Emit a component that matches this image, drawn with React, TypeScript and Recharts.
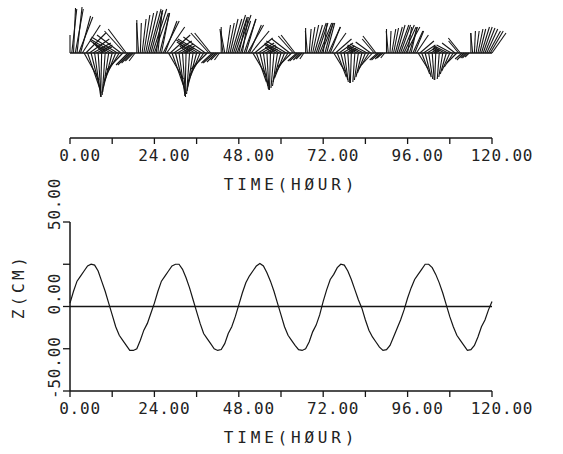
import React from "react";
import { LineChart, Line, XAxis, YAxis, ReferenceLine, Label } from "recharts";

// tide elevation, cm, one reading per hour from 0 to 120 h
const tideCm = [
  2, 9, 15, 18, 21, 24, 25, 24.5, 21, 15, 9, 2, -5, -12, -17, -20, -23, -26, -26, -25, -20, -14, -10, -4,
  2, 9, 15, 18, 21, 24, 25, 25, 22, 17, 11, 4, -3, -10, -16, -19, -22, -25, -26, -25.5, -22, -16, -12, -6,
  1, 8, 14, 18, 21, 24, 25.5, 24, 20, 15, 9, 2, -5, -12, -17, -20, -23, -25.5, -26, -25, -21, -15, -11, -5,
  3, 10, 16, 19, 23, 25, 24.5, 21, 16, 10, 4, -1, -8, -14, -18, -21, -24, -26, -25.5, -23, -18, -13, -8, -2,
  5, 11, 16, 19, 22, 25, 25, 23, 19, 14, 8, 1, -6, -12, -17, -20, -23, -26, -25.5, -23, -18, -12, -8, -2, 3,
];

// current vectors on the hour (east, north), 0..120 h
const eastOnHour = [
  0, 2, 5, 10, 15, 12, 10, 6, 3, -1, -3, -6, -9, -12, -14, -16, -18, -12, -8, 0, 1, 6, 10, 12,
  14, 4, 8, 12, 15, 12, 10, 6, 3, -1, -3, -6, -9, -12, -14, -16, -16, -11, -7, 0, -4, 6, 10, 12,
  8, 6, 10, 12, 13, 10, 8, 5, 2, -1, -3, -5, -8, -10, -12, -14, -14, -9, -6, 0, 2, 6, 10, 12,
  4, 8, 10, 11, 9, 7, 4, 2, -1, -2, -4, -6, -8, -10, -11, -13, -8, -6, 0, 1, 5, 8, 10, 12,
  4, 6, 9, 10, 8, 6, 4, 2, -1, -2, -4, -6, -8, -9, -10, -12, -7, -5, 0, 1, 5, 8, 10, 12, 14,
];
const northOnHour = [
  18, 45, 46, 37, -27, -35, -40, -43, -44, -44, -42, -39, -35, -30, -23, -17, 24, -12, -8, 33, 30, 38, 42, 43,
  40, 42, 40, 32, -26, -34, -40, -43, -44, -43, -41, -38, -34, -29, -22, -16, 20, -10, -7, 26, 22, 30, 34, 36,
  34, 36, 34, 28, -22, -29, -33, -36, -37, -37, -35, -33, -29, -25, -19, -14, 18, -8, -6, 25, 24, 28, 30, 30,
  30, 30, 26, -18, -24, -27, -29, -30, -30, -29, -27, -24, -20, -16, -12, 17, -7, -5, 24, 22, 25, 28, 28, 26,
  26, 26, 22, -16, -21, -24, -26, -27, -27, -26, -24, -21, -18, -14, -10, 15, -7, -5, 20, 22, 24, 26, 25, 22, 20,
];

// current vectors on the half hour (east, north), 0.5..119.5 h
const eastHalfHour = [
  5, 8, 14, 18, 20, 20, 18, 16, 12, -8, -14, -20, -24, -26, -24, -20, -12, -10, -6, -2, 4, 8, 12, 14,
  6, 10, 16, 18, 20, 18, 16, 14, 10, -8, -12, -18, -22, -24, -22, -18, -11, -9, -5, -3, 4, 8, 12, 14,
  10, 12, 16, 18, 18, 16, 14, 12, 9, -7, -10, -15, -18, -20, -18, -15, -9, -7, -4, -2, 4, 8, 10, 12,
  8, 12, 14, 16, 14, 12, 10, 8, -6, -9, -13, -16, -17, -15, -12, -8, -6, -4, -2, 4, 7, 10, 12, 14,
  8, 10, 12, 14, 12, 10, 8, 6, -5, -8, -11, -14, -15, -13, -10, -7, -5, -4, -2, 3, 6, 9, 11, 13,
];
const northHalfHour = [
  44, 44, 36, 28, 20, 14, 10, 8, 6, 8, 10, 12, 14, 16, 18, 22, -12, -10, -8, 30, 34, 40, 44, 44,
  40, 40, 32, 26, 18, 12, 9, 7, 5, 7, 9, 11, 13, 14, 16, 20, -10, -9, -7, 24, 28, 34, 38, 38,
  32, 34, 28, 22, 15, 10, 8, 6, 4, 6, 8, 9, 10, 12, 14, 17, -8, -7, -6, 22, 26, 28, 30, 30,
  30, 26, 20, 14, 10, 7, 5, 4, 5, 6, 7, 8, 9, 11, 14, -7, -6, -5, 22, 24, 26, 28, 28, 26,
  26, 22, 18, 12, 8, 6, 4, 3, 4, 5, 6, 7, 8, 10, 12, -6, -5, -4, 20, 22, 24, 26, 24, 22,
];

const hourTicks = [0, 12, 24, 36, 48, 60, 72, 84, 96, 108, 120];
const labelledHours = [0, 24, 48, 72, 96, 120];
const depthTicks = [-50, -25, 0, 25, 50];
const labelledDepths = [-50, 0, 50];

const FONT = "'DejaVu Sans Mono', monospace";
const INK = "#151515";
const TEXT = "#222";
const W = 563;
const LEFT = 70;
const RIGHT = 71;
const PX_PER_HOUR = (W - LEFT - RIGHT) / 120;

const tideRows = tideCm.map((z, h) => ({ hour: h, z }));

const sticks = [
  ...eastOnHour.map((u, h) => ({ t: h, u, v: northOnHour[h] })),
  ...eastHalfHour.map((u, h) => ({ t: h + 0.5, u, v: northHalfHour[h] })),
];

const TimeTick = (props: any) => {
  const { x, y, payload } = props;
  if (!labelledHours.includes(payload.value)) return null;
  return (
    <text x={x + 10} y={y} dy={15} textAnchor="middle" fontFamily={FONT} fontSize={16}
      letterSpacing={0.8} fill={TEXT}>
      {payload.value.toFixed(2)}
    </text>
  );
};

const DepthTick = (props: any) => {
  const { x, y, payload } = props;
  if (!labelledDepths.includes(payload.value)) return null;
  const tx = x - 1;
  const ty = y + 8;
  return (
    <text x={tx} y={ty} transform={`rotate(-90 ${tx} ${ty})`} textAnchor="start"
      fontFamily={FONT} fontSize={16} letterSpacing={0.8} fill={TEXT}>
      {payload.value.toFixed(2)}
    </text>
  );
};

const timeTitle = ({ viewBox }: any) => (
  <text x={viewBox.x + viewBox.width / 2 + 10} y={viewBox.y + 52} textAnchor="middle"
    fontFamily={FONT} fontSize={16} letterSpacing={3.8} fill={TEXT}>
    TIME(HØUR)
  </text>
);

const depthTitle = ({ viewBox }: any) => {
  const cx = 24;
  const cy = viewBox.y + viewBox.height / 2 - 20;
  return (
    <text x={cx} y={cy} transform={`rotate(-90 ${cx} ${cy})`} textAnchor="middle"
      fontFamily={FONT} fontSize={16} letterSpacing={3.5} fill={TEXT}>
      Z(CM)
    </text>
  );
};

const axisLine = { stroke: INK, strokeWidth: 1.5 };
const tickLine = { stroke: INK, strokeWidth: 1.3 };

export default function App() {
  return (
    <div style={{ position: "absolute", left: 0, top: 0, width: W, height: 454, background: "#fff" }}>
      <div style={{ position: "absolute", left: 0, top: 0 }}>
        <LineChart width={W} height={200} data={tideRows} margin={{ top: 0, right: RIGHT, bottom: 32, left: LEFT }}>
          <XAxis dataKey="hour" type="number" domain={[0, 120]} ticks={hourTicks} interval={0}
            tick={<TimeTick />} tickSize={6} height={30} axisLine={axisLine} tickLine={tickLine}>
            <Label content={timeTitle} />
          </XAxis>
          <YAxis hide type="number" domain={[-85, 53]} allowDataOverflow />
          <ReferenceLine stroke={INK} strokeWidth={1.6} segment={[{ x: 0, y: 0 }, { x: 120, y: 0 }]} />
          {sticks.map((s, i) => (
            <ReferenceLine
              key={i}
              segment={[{ x: s.t, y: 0 }, { x: s.t + s.u / PX_PER_HOUR, y: s.v }]}
              stroke={INK}
              strokeWidth={1.1}
              ifOverflow="visible"
            />
          ))}
        </LineChart>
      </div>
      <div style={{ position: "absolute", left: 0, top: 150 }}>
        <LineChart width={W} height={304} data={tideRows} margin={{ top: 72, right: RIGHT, bottom: 33, left: 0 }}>
          <XAxis dataKey="hour" type="number" domain={[0, 120]} ticks={hourTicks} interval={0}
            tick={<TimeTick />} tickSize={6} height={30} axisLine={axisLine} tickLine={tickLine}>
            <Label content={timeTitle} />
          </XAxis>
          <YAxis type="number" domain={[-50, 50]} ticks={depthTicks} interval={0} width={LEFT}
            tick={<DepthTick />} tickSize={7} axisLine={axisLine} tickLine={tickLine}>
            <Label content={depthTitle} />
          </YAxis>
          <ReferenceLine y={0} stroke={INK} strokeWidth={1.5} />
          <Line type="linear" dataKey="z" stroke={INK} strokeWidth={1.2} dot={false} isAnimationActive={false} />
        </LineChart>
      </div>
    </div>
  );
}
